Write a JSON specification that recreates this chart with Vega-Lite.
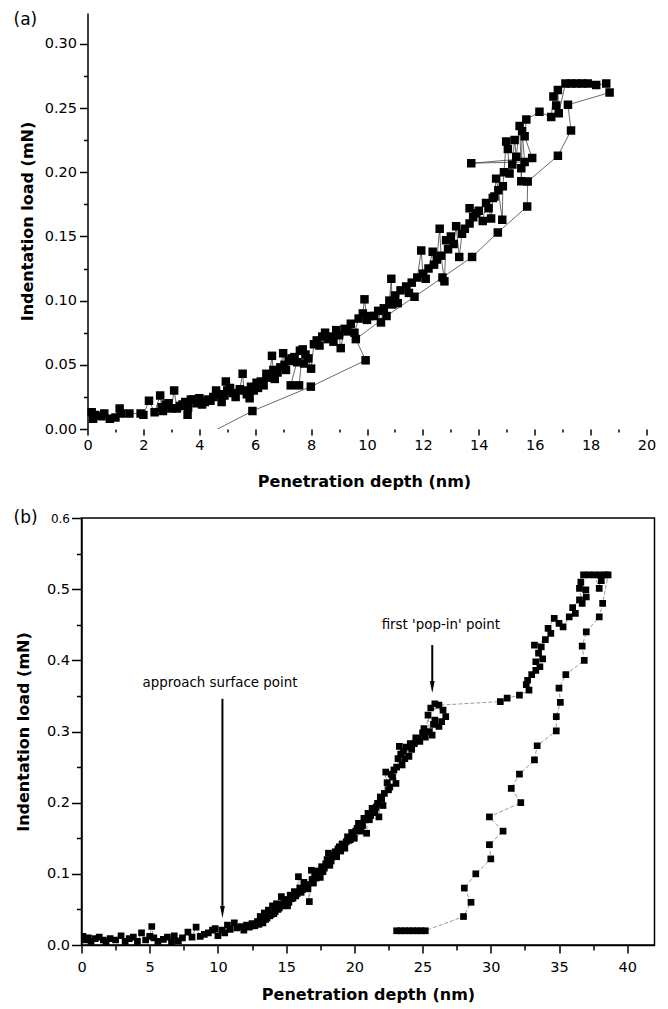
{
"$schema": "https://vega.github.io/schema/vega-lite/v6.json",
"padding": {"left": 12.5, "top": 11, "right": 5, "bottom": 0},
"background": "white",
"datasets": {
"a": [
{"d":0.15,"f":0.013},{"d":0.2,"f":0.008},{"d":0.28,"f":0.011},{"d":0.5,"f":0.010},{"d":0.6,"f":0.012},{"d":0.8,"f":0.008},{"d":1.0,"f":0.009},{"d":1.15,"f":0.016},{"d":1.2,"f":0.012},{"d":1.5,"f":0.012},{"d":1.9,"f":0.012},{"d":2.0,"f":0.011},{"d":2.2,"f":0.022},{"d":2.4,"f":0.013},{"d":2.6,"f":0.026},{"d":2.65,"f":0.017},{"d":2.7,"f":0.014},{"d":2.8,"f":0.019},{"d":2.9,"f":0.020},{"d":3.0,"f":0.016},{"d":3.1,"f":0.030},{"d":3.2,"f":0.016},{"d":3.3,"f":0.018},{"d":3.4,"f":0.019},{"d":3.5,"f":0.021},{"d":3.58,"f":0.011},{"d":3.6,"f":0.017},{"d":3.7,"f":0.023},{"d":3.8,"f":0.023},{"d":3.9,"f":0.020},{"d":4.0,"f":0.024},{"d":4.1,"f":0.019},{"d":4.2,"f":0.021},{"d":4.3,"f":0.023},{"d":4.4,"f":0.022},{"d":4.5,"f":0.025},{"d":4.6,"f":0.030},{"d":4.7,"f":0.027},{"d":4.8,"f":0.021},{"d":4.9,"f":0.026},{"d":4.95,"f":0.037},{"d":5.0,"f":0.030},{"d":5.1,"f":0.032},{"d":5.2,"f":0.028},{"d":5.3,"f":0.025},{"d":5.45,"f":0.031},{"d":5.55,"f":0.043},{"d":5.6,"f":0.030},{"d":5.7,"f":0.027},{"d":5.8,"f":0.024},{"d":5.85,"f":0.033},{"d":5.95,"f":0.030},{"d":6.05,"f":0.036},{"d":6.1,"f":0.032},{"d":6.2,"f":0.037},{"d":6.3,"f":0.034},{"d":6.4,"f":0.043},{"d":6.5,"f":0.040},{"d":6.6,"f":0.057},{"d":6.65,"f":0.046},{"d":6.7,"f":0.039},{"d":6.8,"f":0.044},{"d":6.9,"f":0.048},{"d":7.0,"f":0.059},{"d":7.05,"f":0.050},{"d":7.1,"f":0.046},{"d":7.2,"f":0.053},{"d":7.3,"f":0.055},{"d":7.4,"f":0.056},{"d":7.5,"f":0.052},{"d":7.6,"f":0.061},{"d":7.27,"f":0.034},{"d":7.57,"f":0.034},{"d":7.7,"f":0.062},{"d":7.75,"f":0.051},{"d":7.8,"f":0.058},{"d":7.9,"f":0.055},{"d":8.0,"f":0.047},{"d":8.1,"f":0.066},{"d":8.2,"f":0.069},{"d":8.3,"f":0.065},{"d":8.4,"f":0.072},{"d":8.5,"f":0.075},{"d":8.6,"f":0.070},{"d":8.7,"f":0.072},{"d":8.8,"f":0.068},{"d":8.9,"f":0.077},{"d":9.0,"f":0.073},{"d":9.06,"f":0.063},{"d":9.2,"f":0.078},{"d":9.3,"f":0.076},{"d":9.42,"f":0.082},{"d":9.55,"f":0.075},{"d":9.7,"f":0.086},{"d":9.85,"f":0.090},{"d":9.91,"f":0.101},{"d":10.0,"f":0.085},{"d":10.1,"f":0.088},{"d":10.26,"f":0.088},{"d":10.4,"f":0.092},{"d":10.5,"f":0.083},{"d":10.6,"f":0.094},{"d":10.8,"f":0.100},{"d":10.87,"f":0.117},{"d":10.9,"f":0.097},{"d":11.0,"f":0.104},{"d":11.1,"f":0.098},{"d":11.2,"f":0.108},{"d":11.4,"f":0.111},{"d":11.5,"f":0.106},{"d":11.6,"f":0.114},{"d":11.8,"f":0.118},{"d":11.94,"f":0.139},{"d":12.0,"f":0.121},{"d":12.1,"f":0.117},{"d":12.2,"f":0.125},{"d":12.35,"f":0.138},{"d":12.4,"f":0.128},{"d":12.5,"f":0.132},{"d":12.6,"f":0.156},{"d":12.65,"f":0.135},{"d":12.77,"f":0.115},{"d":12.83,"f":0.147},{"d":12.9,"f":0.140},{"d":13.0,"f":0.150},{"d":13.1,"f":0.144},{"d":13.19,"f":0.158},{"d":13.3,"f":0.134},{"d":13.4,"f":0.152},{"d":13.5,"f":0.156},{"d":13.67,"f":0.160},{"d":13.67,"f":0.172},{"d":13.8,"f":0.165},{"d":13.9,"f":0.168},{"d":14.0,"f":0.170},{"d":14.14,"f":0.162},{"d":14.26,"f":0.176},{"d":14.35,"f":0.172},{"d":14.44,"f":0.164},{"d":14.5,"f":0.180},{"d":14.56,"f":0.181},{"d":14.62,"f":0.195},{"d":14.7,"f":0.186},{"d":14.84,"f":0.163},{"d":14.86,"f":0.189},{"d":14.9,"f":0.200},{"d":14.98,"f":0.224},{"d":15.04,"f":0.218},{"d":15.1,"f":0.199},{"d":15.2,"f":0.206},{"d":15.28,"f":0.225},{"d":15.34,"f":0.212},{"d":15.46,"f":0.236},{"d":15.52,"f":0.203},{"d":15.52,"f":0.193},{"d":15.55,"f":0.232},{"d":15.64,"f":0.208},{"d":13.73,"f":0.207},{"d":15.91,"f":0.211},{"d":15.64,"f":0.228},{"d":15.7,"f":0.241},{"d":16.17,"f":0.247},{"d":16.59,"f":0.243},{"d":16.67,"f":0.259},{"d":16.77,"f":0.252},{"d":16.83,"f":0.264},{"d":16.86,"f":0.246},{"d":17.1,"f":0.269},{"d":17.3,"f":0.269},{"d":17.5,"f":0.269},{"d":17.7,"f":0.269},{"d":17.9,"f":0.269},{"d":18.2,"f":0.268},{"d":18.56,"f":0.269},{"d":18.68,"f":0.262},
{"d":17.19,"f":0.2525},{"d":17.3,"f":0.2325},{"d":16.83,"f":0.2128},{"d":15.75,"f":0.1928},{"d":15.73,"f":0.1733},{"d":14.68,"f":0.153},{"d":13.76,"f":0.134},{"d":12.7,"f":0.118},{"d":11.7,"f":0.103},{"d":10.7,"f":0.088},{"d":9.6,"f":0.07},{"d":9.95,"f":0.0535},{"d":7.99,"f":0.033},{"d":5.9,"f":0.014},{"d":4.3,"f":-0.004}
],
"b": [
{"d":0.1,"f":0.012},{"d":0.3,"f":0.007},{"d":0.5,"f":0.010},{"d":0.7,"f":0.005},{"d":1.0,"f":0.009},{"d":1.3,"f":0.011},{"d":1.6,"f":0.007},{"d":1.8,"f":0.004},{"d":2.1,"f":0.009},{"d":2.5,"f":0.007},{"d":2.9,"f":0.013},{"d":3.2,"f":0.005},{"d":3.5,"f":0.009},{"d":3.8,"f":0.011},{"d":4.1,"f":0.005},{"d":4.4,"f":0.017},{"d":4.7,"f":0.007},{"d":5.0,"f":0.012},{"d":5.15,"f":0.026},{"d":5.3,"f":0.010},{"d":5.6,"f":0.005},{"d":6.0,"f":0.008},{"d":6.3,"f":0.011},{"d":6.6,"f":0.004},{"d":6.8,"f":0.013},{"d":7.1,"f":0.006},{"d":7.4,"f":0.010},{"d":7.8,"f":0.018},{"d":8.1,"f":0.011},{"d":8.4,"f":0.025},{"d":8.7,"f":0.012},{"d":9.0,"f":0.015},{"d":9.3,"f":0.017},{"d":9.6,"f":0.021},{"d":9.8,"f":0.023},{"d":10.0,"f":0.013},{"d":10.3,"f":0.021},{"d":10.5,"f":0.017},{"d":10.7,"f":0.028},{"d":10.9,"f":0.022},{"d":11.2,"f":0.031},{"d":11.4,"f":0.024},{"d":11.7,"f":0.026},{"d":11.9,"f":0.021},{"d":12.1,"f":0.028},{"d":12.3,"f":0.025},{"d":12.5,"f":0.030},{"d":12.7,"f":0.027},{"d":12.9,"f":0.033},{"d":13.0,"f":0.029},{"d":13.1,"f":0.040},{"d":13.2,"f":0.034},{"d":13.3,"f":0.031},{"d":13.4,"f":0.045},{"d":13.5,"f":0.036},{"d":13.6,"f":0.038},{"d":13.7,"f":0.049},{"d":13.8,"f":0.041},{"d":13.9,"f":0.043},{"d":14.0,"f":0.055},{"d":14.1,"f":0.044},{"d":14.2,"f":0.047},{"d":14.3,"f":0.058},{"d":14.4,"f":0.050},{"d":14.5,"f":0.052},{"d":14.65,"f":0.068},{"d":14.7,"f":0.055},{"d":14.8,"f":0.058},{"d":14.9,"f":0.062},{"d":15.0,"f":0.064},{"d":15.1,"f":0.055},{"d":15.2,"f":0.060},{"d":15.3,"f":0.070},{"d":15.4,"f":0.065},{"d":15.5,"f":0.066},{"d":15.6,"f":0.075},{"d":15.7,"f":0.069},{"d":15.8,"f":0.072},{"d":15.9,"f":0.096},{"d":16.0,"f":0.080},{"d":16.1,"f":0.074},{"d":16.2,"f":0.078},{"d":16.3,"f":0.088},{"d":16.4,"f":0.082},{"d":16.5,"f":0.085},{"d":16.6,"f":0.079},{"d":16.7,"f":0.061},{"d":16.85,"f":0.105},{"d":16.9,"f":0.092},{"d":17.0,"f":0.087},{"d":17.1,"f":0.098},{"d":17.2,"f":0.094},{"d":17.3,"f":0.104},{"d":17.4,"f":0.100},{"d":17.5,"f":0.095},{"d":17.6,"f":0.110},{"d":17.7,"f":0.103},{"d":17.8,"f":0.108},{"d":17.9,"f":0.114},{"d":18.0,"f":0.120},{"d":18.1,"f":0.129},{"d":18.2,"f":0.112},{"d":18.3,"f":0.118},{"d":18.4,"f":0.124},{"d":18.5,"f":0.126},{"d":18.6,"f":0.131},{"d":18.7,"f":0.124},{"d":18.8,"f":0.135},{"d":18.9,"f":0.138},{"d":19.0,"f":0.132},{"d":19.1,"f":0.142},{"d":19.2,"f":0.140},{"d":19.3,"f":0.136},{"d":19.4,"f":0.145},{"d":19.5,"f":0.152},{"d":19.6,"f":0.147},{"d":19.7,"f":0.148},{"d":19.8,"f":0.158},{"d":19.9,"f":0.156},{"d":20.0,"f":0.150},{"d":20.1,"f":0.160},{"d":20.2,"f":0.164},{"d":20.3,"f":0.171},{"d":20.4,"f":0.166},{"d":20.5,"f":0.160},{"d":20.6,"f":0.168},{"d":20.7,"f":0.178},{"d":20.8,"f":0.176},{"d":20.9,"f":0.157},{"d":21.0,"f":0.185},{"d":21.1,"f":0.176},{"d":21.2,"f":0.182},{"d":21.3,"f":0.192},{"d":21.4,"f":0.190},{"d":21.5,"f":0.186},{"d":21.6,"f":0.194},{"d":21.7,"f":0.199},{"d":21.8,"f":0.180},{"d":21.9,"f":0.208},{"d":22.0,"f":0.205},{"d":22.1,"f":0.196},{"d":22.2,"f":0.213},{"d":22.3,"f":0.243},{"d":22.4,"f":0.228},{"d":22.5,"f":0.218},{"d":22.6,"f":0.222},{"d":22.7,"f":0.240},{"d":22.8,"f":0.236},{"d":22.9,"f":0.246},{"d":23.05,"f":0.227},{"d":23.1,"f":0.250},{"d":23.2,"f":0.262},{"d":23.3,"f":0.279},{"d":23.4,"f":0.268},{"d":23.5,"f":0.253},{"d":23.6,"f":0.272},{"d":23.7,"f":0.262},{"d":23.8,"f":0.278},{"d":24.0,"f":0.265},{"d":24.1,"f":0.283},{"d":24.2,"f":0.275},{"d":24.4,"f":0.283},{"d":24.5,"f":0.291},{"d":24.7,"f":0.290},{"d":24.8,"f":0.286},{"d":25.0,"f":0.298},{"d":25.1,"f":0.304},{"d":25.2,"f":0.292},{"d":25.4,"f":0.323},{"d":25.5,"f":0.300},{"d":25.7,"f":0.295},{"d":25.8,"f":0.310},{"d":25.9,"f":0.316},{"d":26.2,"f":0.307},{"d":26.4,"f":0.314},{"d":26.7,"f":0.321},{"d":26.5,"f":0.330},{"d":25.6,"f":0.333},{"d":25.9,"f":0.339},{"d":26.2,"f":0.337},
{"d":30.7,"f":0.342},{"d":31.2,"f":0.347},{"d":32.1,"f":0.351},{"d":32.8,"f":0.358},{"d":32.6,"f":0.366},{"d":32.7,"f":0.372},{"d":33.0,"f":0.380},{"d":33.3,"f":0.386},{"d":33.6,"f":0.391},{"d":33.3,"f":0.398},{"d":33.8,"f":0.402},{"d":33.5,"f":0.410},{"d":33.7,"f":0.419},{"d":33.2,"f":0.4215},{"d":34.0,"f":0.429},{"d":34.4,"f":0.438},{"d":34.2,"f":0.445},{"d":34.65,"f":0.459},{"d":35.0,"f":0.452},{"d":35.3,"f":0.447},{"d":35.75,"f":0.461},{"d":36.2,"f":0.466},{"d":36.0,"f":0.474},{"d":36.5,"f":0.485},{"d":36.7,"f":0.480},{"d":36.5,"f":0.501},{"d":37.0,"f":0.489},{"d":36.97,"f":0.499},{"d":36.6,"f":0.510},{"d":36.8,"f":0.520},{"d":37.2,"f":0.520},{"d":37.6,"f":0.520},{"d":37.95,"f":0.501},{"d":38.0,"f":0.520},{"d":38.1,"f":0.512},{"d":38.4,"f":0.520},{"d":38.6,"f":0.520},
{"d":38.2,"f":0.480},{"d":37.95,"f":0.461},{"d":37.0,"f":0.440},{"d":36.7,"f":0.420},{"d":36.85,"f":0.400},{"d":35.5,"f":0.380},{"d":35.0,"f":0.361},{"d":35.1,"f":0.341},{"d":34.8,"f":0.321},{"d":34.8,"f":0.301},{"d":33.4,"f":0.280},{"d":33.2,"f":0.260},{"d":32.1,"f":0.240},{"d":31.5,"f":0.220},{"d":32.2,"f":0.200},{"d":29.9,"f":0.180},{"d":30.9,"f":0.160},{"d":29.9,"f":0.141},{"d":30.0,"f":0.121},{"d":28.9,"f":0.100},{"d":28.06,"f":0.080},{"d":28.55,"f":0.060},{"d":28.0,"f":0.040},{"d":25.2,"f":0.020},{"d":24.9,"f":0.020},{"d":24.6,"f":0.020},{"d":24.3,"f":0.020},{"d":24.0,"f":0.020},{"d":23.7,"f":0.020},{"d":23.4,"f":0.020},{"d":23.1,"f":0.020}
],
"notes": [
{"d":10.15,"f":0.3625,"t":"approach surface point"},
{"d":26.34,"f":0.444,"t":"first 'pop-in' point"}
],
"arrows": [
{"d":10.33,"f":0.346,"f2":0.055,"tip":0.038},
{"d":25.71,"f":0.4215,"f2":0.371,"tip":0.354}
]
},
"vconcat": [
{
"width": 565, "height": 416,
"view": {"stroke": null},
"title": {"text": "(a)", "anchor": "start", "frame": "group", "orient": "top", "offset": -17, "dx": -68, "dy": 12, "fontSize": 17, "fontWeight": "normal", "baseline": "alphabetic", "color": "black", "font": "DejaVu Sans"},
"encoding": {
"x": {"field": "d", "type": "quantitative", "scale": {"domain": [-0.2147, 20], "nice": false, "zero": false},
"axis": {"title": "Penetration depth (nm)", "domain": false, "values": [0,1,2,3,4,5,6,7,8,9,10,11,12,13,14,15,16,17,18,19,20], "labelExpr": "datum.value % 2 === 0 ? datum.label : ''", "tickSize": {"condition": {"test": "datum.value % 2 !== 0", "value": 3}, "value": 6}, "labelPadding": 3, "titlePadding": 22}},
"y": {"field": "f", "type": "quantitative", "scale": {"domain": [0, 0.324], "nice": false, "zero": false},
"axis": {"title": "Indentation load (mN)", "offset": -6, "values": [0,0.025,0.05,0.075,0.1,0.125,0.15,0.175,0.2,0.225,0.25,0.275,0.3], "format": ".2f", "labelExpr": "round(datum.value*1000) % 50 === 0 ? datum.label : ''", "tickSize": {"condition": {"test": "round(datum.value*1000) % 50 !== 0", "value": 4}, "value": 8}, "labelPadding": 3, "titlePadding": 9}}
},
"layer": [
{"data": {"name": "a"}, "mark": {"type": "line", "color": "#444444", "strokeWidth": 0.8, "clip": true}, "encoding": {"order": {"value": null}}},
{"data": {"name": "a"}, "mark": {"type": "point", "shape": "square", "filled": true, "color": "black", "opacity": 1, "size": 72, "clip": true}},
{"data": {"values": [{}]}, "mark": {"type": "rule", "color": "black", "strokeWidth": 1.5}, "encoding": {"x": {"datum": 0, "type": "quantitative", "title": "Penetration depth (nm)"}, "x2": {"datum": 20}, "y": {"datum": 0.324, "type": "quantitative", "title": "Indentation load (mN)"}}},
{"data": {"values": [{}]}, "mark": {"type": "rule", "color": "black", "strokeWidth": 1.5}, "encoding": {"x": {"datum": 0, "type": "quantitative", "title": "Penetration depth (nm)"}, "x2": {"datum": 20}, "y": {"datum": 0, "type": "quantitative", "title": "Indentation load (mN)"}}},
{"data": {"values": [{}]}, "mark": {"type": "rule", "color": "black", "strokeWidth": 1.5}, "encoding": {"x": {"datum": 20, "type": "quantitative", "title": "Penetration depth (nm)"}, "y": {"datum": 0, "type": "quantitative", "title": "Indentation load (mN)"}, "y2": {"datum": 0.324}}}
]
},
{
"width": 573, "height": 427,
"title": {"text": "(b)", "anchor": "start", "frame": "group", "orient": "top", "offset": -22, "dx": -68, "dy": 6, "fontSize": 17, "fontWeight": "normal", "baseline": "alphabetic", "color": "black", "font": "DejaVu Sans"},
"encoding": {
"x": {"field": "d", "type": "quantitative", "scale": {"domain": [0, 42], "nice": false, "zero": false},
"axis": {"title": "Penetration depth (nm)", "values": [0,2.5,5,7.5,10,12.5,15,17.5,20,22.5,25,27.5,30,32.5,35,37.5,40], "labelExpr": "datum.value % 5 === 0 ? datum.label : ''", "tickSize": {"condition": {"test": "datum.value % 5 !== 0", "value": 5}, "value": 8}, "labelPadding": 7, "titlePadding": 13}},
"y": {"field": "f", "type": "quantitative", "scale": {"domain": [0, 0.6], "nice": false, "zero": false},
"axis": {"title": "Indentation load (mN)", "values": [0,0.05,0.1,0.15,0.2,0.25,0.3,0.35,0.4,0.45,0.5,0.55,0.6], "format": ".1f", "labelExpr": "round(datum.value*100) % 10 === 0 ? datum.label : ''", "tickSize": {"condition": {"test": "round(datum.value*100) % 10 !== 0", "value": 5}, "value": 10}, "labelFontSize": {"condition": {"test": "datum.value > 0.55", "value": 12}, "value": 14.5}, "labelPadding": 2, "titlePadding": 15}}
},
"layer": [
{"data": {"name": "b"}, "mark": {"type": "line", "color": "#9a9a9a", "strokeWidth": 1, "strokeDash": [4, 2], "clip": true}, "encoding": {"order": {"value": null}}},
{"data": {"name": "b"}, "mark": {"type": "point", "shape": "square", "filled": true, "color": "black", "opacity": 1, "size": 45, "clip": true}},
{"data": {"name": "notes"}, "mark": {"type": "text", "align": "center", "baseline": "alphabetic", "fontSize": 13.4, "font": "DejaVu Sans", "color": "black"}, "encoding": {"text": {"field": "t"}}},
{"data": {"name": "arrows"}, "mark": {"type": "rule", "color": "black", "strokeWidth": 2}, "encoding": {"y2": {"field": "f2"}}},
{"data": {"name": "arrows"}, "mark": {"type": "point", "shape": "M-0.8,-4L0.8,-4L0,0Z", "filled": true, "color": "black", "opacity": 1, "size": 36}, "encoding": {"y": {"field": "tip", "type": "quantitative"}}}
]
}
],
"spacing": 18,
"config": {
"view": {"stroke": "black", "strokeWidth": 1.5},
"font": "DejaVu Sans",
"axis": {"domainColor": "black", "domainWidth": 1.5, "tickColor": "black", "tickWidth": 1.5, "grid": false, "labelFont": "DejaVu Sans", "labelFontSize": 14.5, "labelColor": "black", "titleFont": "DejaVu Sans", "titleFontSize": 16, "titleFontWeight": "bold", "titleColor": "black", "labelFlush": false, "labelOverlap": false}
}
}
